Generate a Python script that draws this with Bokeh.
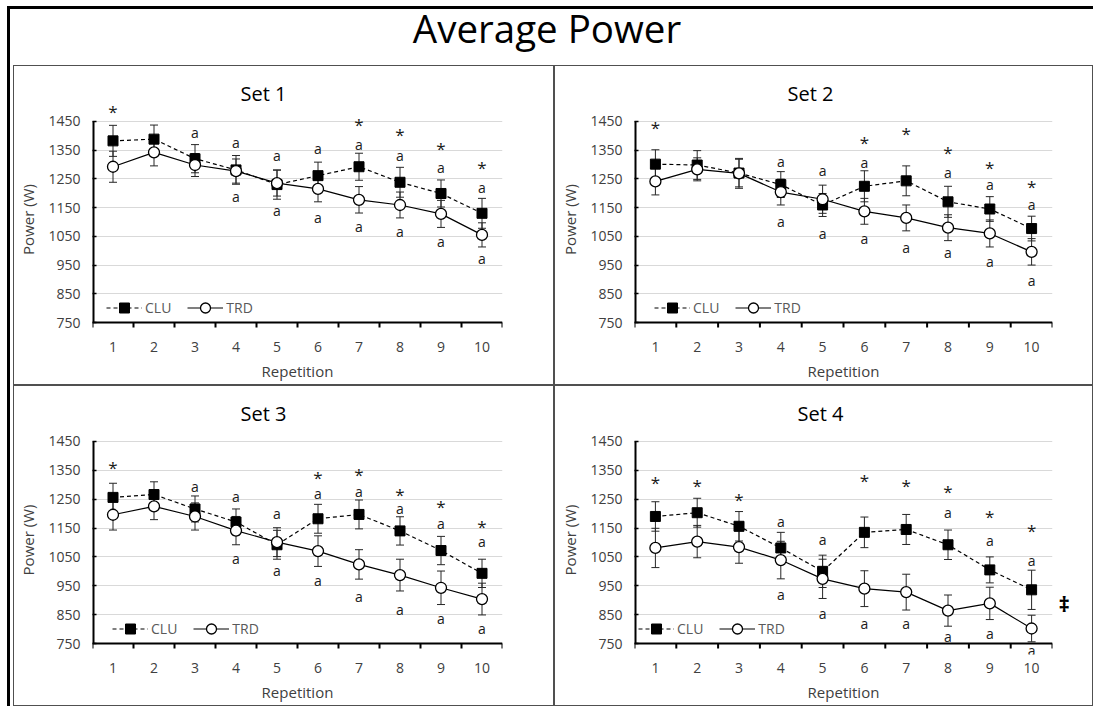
from bokeh.plotting import figure
from bokeh.models import (ColumnDataSource, Whisker, TeeHead, FixedTicker, Range1d,
                          Legend, LegendItem, Label, LabelSet, LinearAxis)
from bokeh.layouts import column, row
from bokeh.core.properties import value
from bokeh.embed import file_html
from bokeh.resources import INLINE

# ---------------- data ----------------
reps = [1, 2, 3, 4, 5, 6, 7, 8, 9, 10]
y_ticks = [750, 850, 950, 1050, 1150, 1250, 1350, 1450]

clu1 = [1382, 1388, 1320, 1281, 1230, 1261, 1292, 1238, 1199, 1130]
clu1_err = [54, 49, 49, 50, 51, 47, 47, 52, 47, 52]
trd1 = [1292, 1342, 1298, 1277, 1235, 1215, 1177, 1159, 1128, 1055]
trd1_err = [54, 47, 40, 42, 45, 45, 46, 45, 47, 42]
star1 = [1484, None, None, None, None, None, 1439, 1403, 1354, 1290]
a_up1 = [None, None, 1410, 1377, 1331, 1354, 1371, 1331, 1290, 1221]
a_dn1 = [None, None, None, 1188, 1140, 1115, 1085, 1066, 1032, 972]

clu2 = [1301, 1298, 1270, 1230, 1159, 1224, 1243, 1170, 1145, 1077]
clu2_err = [50, 50, 48, 45, 40, 54, 52, 54, 43, 43]
trd2 = [1241, 1283, 1269, 1204, 1179, 1137, 1114, 1080, 1060, 996]
trd2_err = [47, 40, 52, 45, 49, 45, 45, 45, 47, 46]
star2 = [1427, None, None, None, None, 1377, 1408, 1340, 1290, 1224]
a_up2 = [None, None, None, 1309, 1278, 1307, None, 1273, 1230, 1162]
a_dn2 = [None, None, None, 1103, 1060, 1041, 1012, 993, 961, 895]

clu3 = [1256, 1266, 1216, 1171, 1092, 1182, 1197, 1140, 1072, 993]
clu3_err = [49, 44, 45, 45, 50, 50, 50, 49, 49, 49]
trd3 = [1196, 1225, 1190, 1141, 1101, 1070, 1024, 987, 943, 904]
trd3_err = [53, 46, 47, 49, 50, 53, 51, 55, 58, 55]
star3 = [1361, None, None, None, None, 1324, 1335, 1267, 1225, 1156]
a_up3 = [None, None, 1293, 1259, 1199, 1269, 1275, 1216, 1165, 1103]
a_dn3 = [None, None, None, 1045, 1002, 968, 914, 869, 836, 801]

clu4 = [1190, 1203, 1156, 1081, 1000, 1135, 1145, 1092, 1005, 936]
clu4_err = [51, 50, 51, 54, 56, 53, 52, 51, 45, 68]
trd4 = [1081, 1103, 1084, 1039, 974, 940, 928, 864, 889, 802]
trd4_err = [68, 56, 56, 65, 68, 62, 62, 54, 56, 46]
star4 = [1307, 1298, 1248, None, None, 1316, 1298, 1278, 1190, 1141]
a_up4 = [None, None, None, 1171, 1109, None, None, 1202, 1106, 1038]
a_dn4 = [None, None, None, 919, 855, 821, 818, 773, 784, 725]
dagger_y4 = 889

FONT = "Open Sans"
TICK_COLOR = "#404040"
LINE_GRAY = "#505050"
Y_TOP = 1505      # headroom above the 1450 gridline for significance marks
Y_BOTTOM = 712    # room under the 750 axis line for marks that sit below it
TICK_LEN = 17     # length of the x tick marks, in W units (about 5 px)


def make_panel(title, clu, clu_err, trd, trd_err, star, a_up, a_dn,
               width, height, bl, br, bt, bb, legend_x, title_off, left_col):
    p = figure(width=width, height=height,
               x_range=Range1d(0.5, 10.5), y_range=Range1d(Y_BOTTOM, Y_TOP),
               output_backend="svg", toolbar_location=None,
               min_border_left=bl, min_border_right=br,
               min_border_top=bt, min_border_bottom=bb)
    p.outline_line_color = None
    p.background_fill_color = "white"
    p.border_fill_alpha = 0
    p.xgrid.visible = False
    p.ygrid.grid_line_color = "#d9d9d9"
    p.ygrid.grid_line_width = 1

    p.title.text = title
    p.title.align = "left"
    p.title.offset = title_off
    p.title.standoff = -3
    p.title.text_font = FONT
    p.title.text_font_size = "20px"
    p.title.text_font_style = "normal"
    p.title.text_color = "black"

    # x axis: labels on categories; axis line and between-category ticks at 750
    p.xaxis.ticker = FixedTicker(ticks=reps)
    p.xaxis.major_tick_line_color = None
    p.xaxis.minor_tick_line_color = None
    p.xaxis.axis_line_color = None
    p.xaxis.major_label_standoff = 2
    p.xaxis.axis_label = "Repetition"
    p.xaxis.axis_label_standoff = 6
    tick_x = [r - 0.5 for r in reps] + [reps[-1] + 0.5]
    p.segment(x0=tick_x, y0=[y_ticks[0]] * len(tick_x), x1=tick_x,
              y1=[y_ticks[0] - TICK_LEN] * len(tick_x),
              line_color="black", line_width=2)
    p.segment(x0=[tick_x[0]], y0=[y_ticks[0]], x1=[tick_x[-1]], y1=[y_ticks[0]],
              line_color="black", line_width=2)

    # y axis (its line is drawn only from 750 to 1450)
    p.yaxis.ticker = FixedTicker(ticks=y_ticks)
    p.yaxis.minor_tick_line_color = None
    p.yaxis.major_tick_in = 4
    p.yaxis.major_tick_out = 0
    p.yaxis.major_tick_line_color = "black"
    p.yaxis.major_tick_line_width = 1.5
    p.yaxis.axis_line_color = None
    p.yaxis.major_label_standoff = 12
    p.yaxis.axis_label = "Power (W)"
    p.yaxis.axis_label_standoff = 7
    p.segment(x0=[tick_x[0]], y0=[y_ticks[0]], x1=[tick_x[0]], y1=[y_ticks[-1]],
              line_color="black", line_width=4)

    for ax in (p.xaxis, p.yaxis):
        ax.major_label_text_font = FONT
        ax.major_label_text_font_size = "14px"
        ax.major_label_text_color = TICK_COLOR
        ax.axis_label_text_font = FONT
        ax.axis_label_text_font_size = "15px"
        ax.axis_label_text_font_style = "normal"
        ax.axis_label_text_color = TICK_COLOR

    # error bars
    src_c = ColumnDataSource(dict(x=reps, y=clu,
                                  up=[v + e for v, e in zip(clu, clu_err)],
                                  lo=[v - e for v, e in zip(clu, clu_err)]))
    src_t = ColumnDataSource(dict(x=reps, y=trd,
                                  up=[v + e for v, e in zip(trd, trd_err)],
                                  lo=[v - e for v, e in zip(trd, trd_err)]))
    for src in (src_c, src_t):
        w = Whisker(source=src, base="x", upper="up", lower="lo",
                    line_color="#262626", line_width=1,
                    upper_head=TeeHead(size=8, line_color="#262626", line_width=1),
                    lower_head=TeeHead(size=8, line_color="#262626", line_width=1))
        p.add_layout(w)

    l_c = p.line("x", "y", source=src_c, line_color="black", line_width=1.2,
                 line_dash="4 3")
    s_c = p.scatter("x", "y", source=src_c, marker="square", size=10,
                    fill_color="black", line_color="black")
    l_t = p.line("x", "y", source=src_t, line_color="black", line_width=1.2)
    s_t = p.scatter("x", "y", source=src_t, marker="circle", size=11,
                    fill_color="white", line_color="black", line_width=1.3)

    legend = Legend(items=[LegendItem(label="CLU", renderers=[l_c, s_c]),
                           LegendItem(label="TRD", renderers=[l_t, s_t])],
                    orientation="horizontal", location=(legend_x, 13),
                    background_fill_alpha=0, border_line_color=None,
                    label_text_font=FONT, label_text_font_size="14px",
                    label_text_color="#595959", glyph_width=36, glyph_height=25,
                    label_standoff=3, spacing=16, padding=0, margin=0)
    p.add_layout(legend)

    # significance annotations
    sx, sy, ax_, ay_ = [], [], [], []
    for r, s, u, d in zip(reps, star, a_up, a_dn):
        if s is not None:
            sx.append(r); sy.append(s)
        if u is not None:
            ax_.append(r); ay_.append(u)
        if d is not None:
            ax_.append(r); ay_.append(d)
    p.add_layout(LabelSet(x="x", y="y", text="t",
                          source=ColumnDataSource(dict(x=ax_, y=ay_, t=["a"] * len(ax_))),
                          text_align="center", text_baseline="middle",
                          text_font=value(FONT), text_font_size="14px",
                          text_color="#1a1a1a"))
    p.add_layout(LabelSet(x="x", y="y", text="t",
                          source=ColumnDataSource(dict(x=sx, y=sy, t=["*"] * len(sx))),
                          text_align="center", text_baseline="middle", y_offset=0,
                          text_font=value(FONT), text_font_size="17px",
                          text_color="#1a1a1a"))

    shadows = ["inset 0 1px 0 0 " + LINE_GRAY, "inset -1px 0 0 0 " + LINE_GRAY,
               "inset 0 -1px 0 0 " + LINE_GRAY]
    if left_col:
        shadows = ["inset 7px 0 0 0 white", "inset 10px 0 0 0 black",
                   "inset 13px 0 0 0 white", "inset 14px 0 0 0 " + LINE_GRAY] + shadows
    else:
        shadows = shadows + ["inset 1px 0 0 0 " + LINE_GRAY]
    p.styles = {"box-shadow": ", ".join(shadows)}
    return p


W1, W2 = 554, 539
H0, H1, H2 = 65, 320, 321

p1 = make_panel("Set 1", clu1, clu1_err, trd1, trd1_err, star1, a_up1, a_dn1,
                W1, H1, 92, 52, 40, 52, 14, 148, True)
p2 = make_panel("Set 2", clu2, clu2_err, trd2, trd2_err, star2, a_up2, a_dn2,
                W2, H1, 80, 41, 40, 52, 20, 153, False)
p3 = make_panel("Set 3", clu3, clu3_err, trd3, trd3_err, star3, a_up3, a_dn3,
                W1, H2, 92, 52, 40, 52, 20, 148, True)
p4 = make_panel("Set 4", clu4, clu4_err, trd4, trd4_err, star4, a_up4, a_dn4,
                W2, H2, 80, 41, 40, 52, 4, 163, False)

# double dagger beside set 4 (as a right-side axis label)
dag_axis = LinearAxis(ticker=FixedTicker(ticks=[dagger_y4]),
                      major_label_overrides={dagger_y4: "\u2021"},
                      axis_line_color=None, major_tick_line_color=None,
                      minor_tick_line_color=None, major_label_standoff=0,
                      major_label_text_font=FONT, major_label_text_font_size="22px",
                      major_label_text_font_style="bold",
                      major_label_text_color="black")
p4.add_layout(dag_axis, "right")

p0 = figure(width=W1 + W2, height=H0, x_range=Range1d(0, 1), y_range=Range1d(0, 1),
            output_backend="svg", toolbar_location=None, min_border=0)
p0.axis.visible = False
p0.grid.visible = False
p0.outline_line_color = None
p0.background_fill_alpha = 0
p0.border_fill_alpha = 0
p0.add_layout(Label(x=0.5, y=0.57, text="Average Power", text_align="center",
                    text_baseline="middle", text_font=FONT,
                    text_font_size="38.5px", text_color="black"))
p0.styles = {"box-shadow": "inset 7px 0 0 0 white, inset 0 6px 0 0 white, "
                           "inset 10px 0 0 0 black, inset 0 9px 0 0 black"}

layout = column(p0, row(p1, p2), row(p3, p4))

open("out.html", "w").write(file_html(layout, INLINE))
